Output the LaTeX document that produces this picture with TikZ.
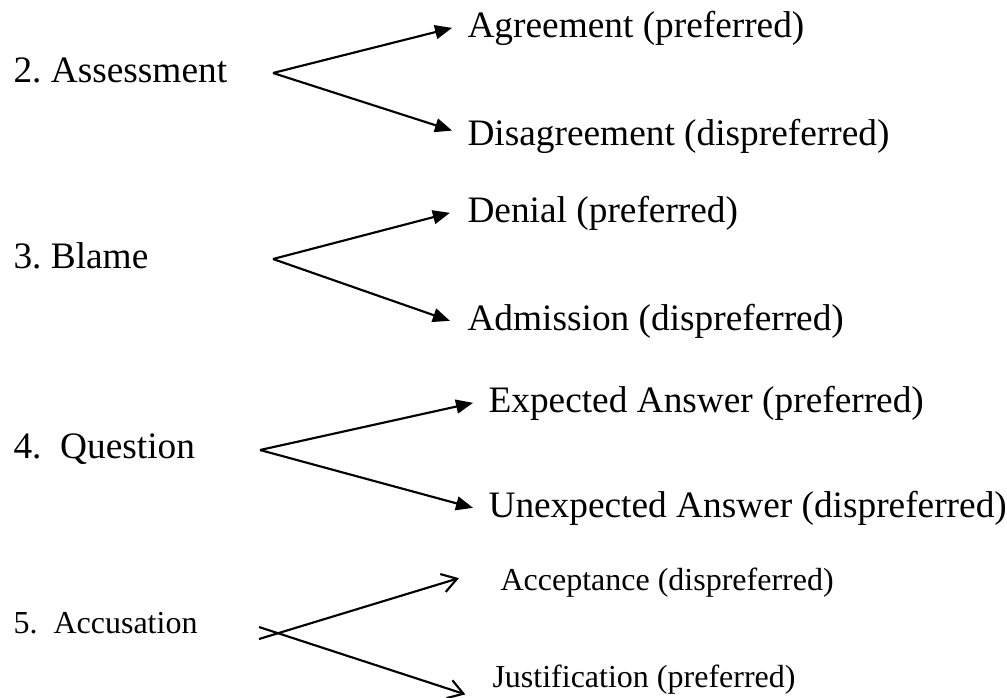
\documentclass[tikz,border=0pt]{standalone}
\usepackage{fontspec}
\setmainfont{Liberation Serif}
\usetikzlibrary{arrows.meta}
\frenchspacing
\tikzset{
  big/.style={font=\fontsize{14}{17}\selectfont, inner sep=0pt, anchor=base west},
  small/.style={font=\fontsize{12}{14}\selectfont, inner sep=0pt, anchor=base west},
  fullarr/.style={line width=0.8pt, -{Triangle[length=6.4pt,width=5.2pt]}},
  openarr/.style={line width=0.8pt, -{Straight Barb[length=5.5pt,width=7pt]}}
}
\begin{document}
\begin{tikzpicture}[x=0.375pt, y=-0.375pt]
    \useasboundingbox (0,0) rectangle (1007,697);

    \node[big] (ass) at (13,82) {2. Assessment};
    \node[big] (agr) at (467,37) {Agreement (preferred)};
    \node[big] (dis) at (467,145) {Disagreement (dispreferred)};
    \coordinate (v2) at (273,73);
    \draw[fullarr] (v2) -- ([xshift=-5.6pt]agr.west);
    \draw[fullarr] (v2) -- ([xshift=-5.6pt, yshift=2pt]dis.west);

    \node[big] (bla) at (13,268) {3. Blame};
    \node[big] (den) at (467,222) {Denial (preferred)};
    \node[big] (adm) at (467,330) {Admission (dispreferred)};
    \coordinate (v3) at (273,259);
    \draw[fullarr] (v3) -- ([xshift=-6.4pt]den.west);
    \draw[fullarr] (v3) -- ([xshift=-6.4pt]adm.west);

    \node[big] (que) at (13,458) {4.\ \ Question};
    \node[big] (exp) at (488,412) {Expected Answer (preferred)};
    \node[big] (une) at (488,517) {Unexpected Answer (dispreferred)};
    \coordinate (v4) at (260,450);
    \draw[fullarr] (v4) -- ([xshift=-5.6pt]exp.west);
    \draw[fullarr] (v4) -- ([xshift=-5.6pt]une.west);

    \node[small] (acu) at (13,633) {5.\ \ Accusation};
    \node[small] (acc) at (500,590) {Acceptance (dispreferred)};
    \node[small] (jus) at (492,687) {Justification (preferred)};
    \coordinate (v5a) at (259,639);
    \coordinate (v5b) at (259,627);
    \draw[openarr] (v5a) -- ([xshift=-15.4pt, yshift=1.5pt]acc.west);
    \draw[openarr] (v5b) -- ([xshift=-10pt]jus.south west);
\end{tikzpicture}
\end{document}
